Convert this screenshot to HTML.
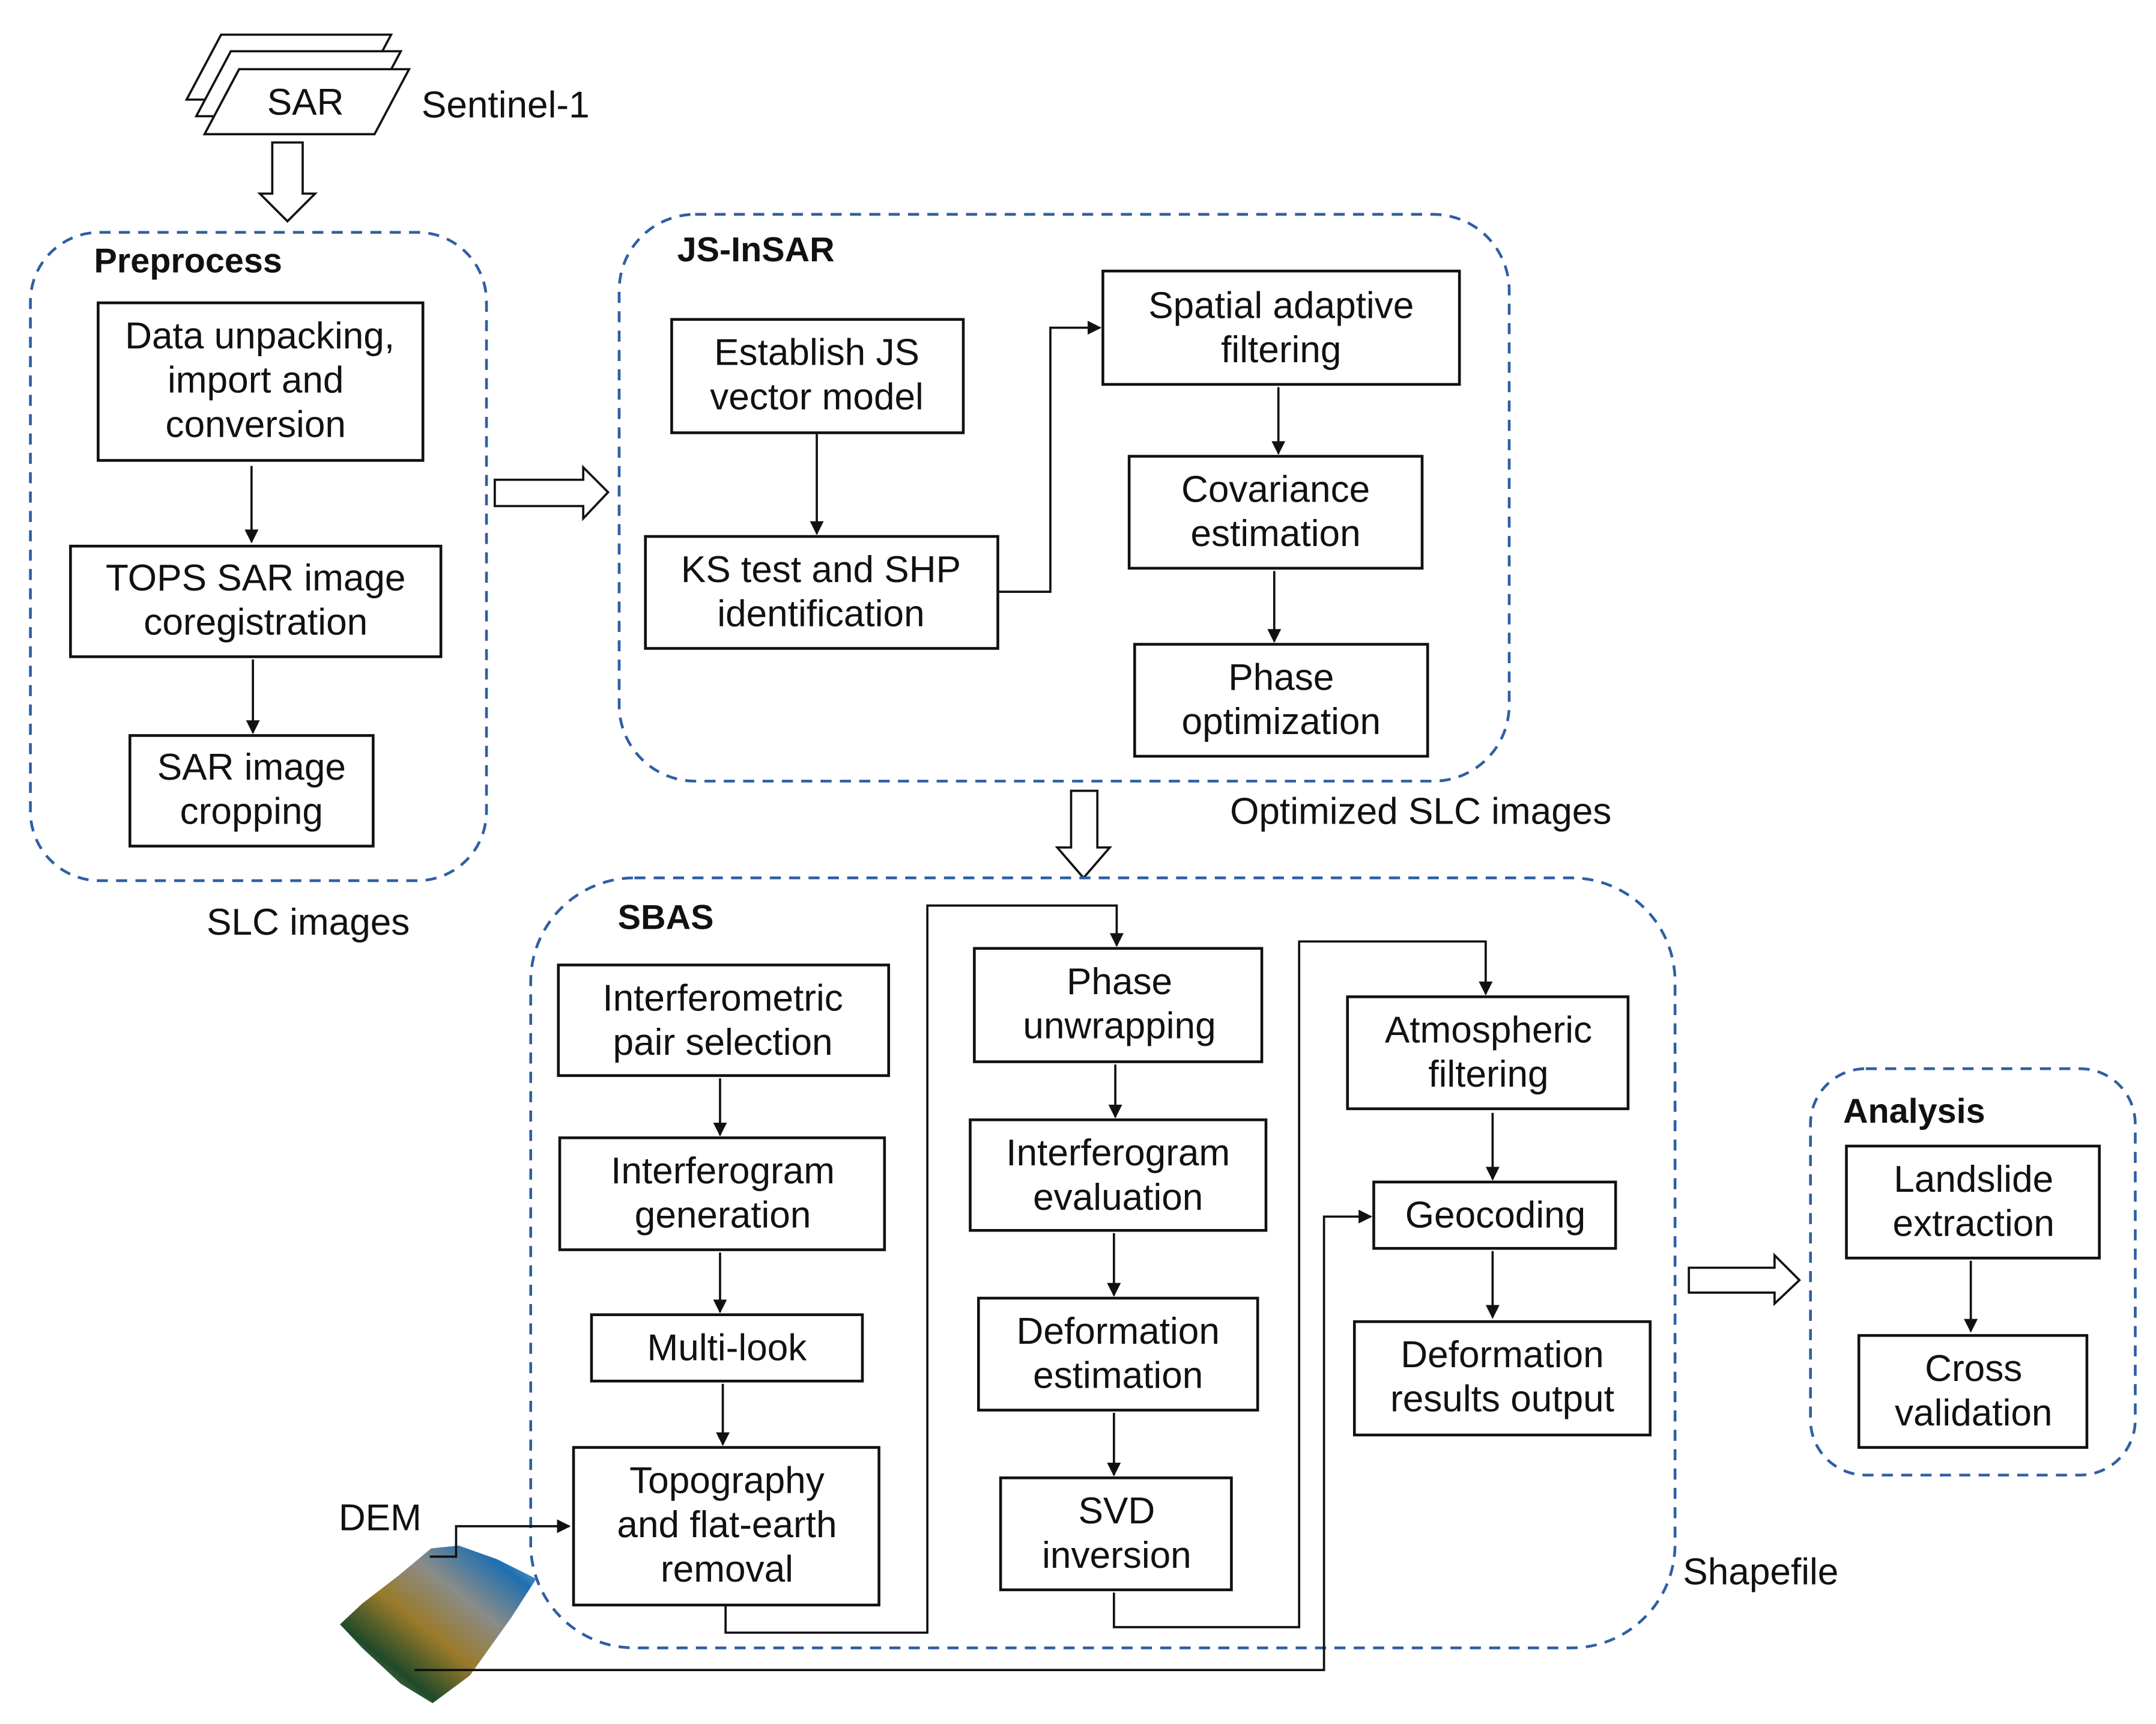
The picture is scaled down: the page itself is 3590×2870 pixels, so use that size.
<!DOCTYPE html>
<html><head><meta charset="utf-8"><style>
html,body{margin:0;padding:0;background:#fff;}
svg{display:block;}
text{font-family:"Liberation Sans",sans-serif;font-size:27px;fill:#111;}
.t{font-weight:bold;font-size:25px;}
.b{fill:#fff;stroke:#111;stroke-width:2;}
.d{fill:none;stroke:#2e5fa3;stroke-width:2;stroke-dasharray:8,6;}
.l{fill:none;stroke:#111;stroke-width:1.6;}
.h{fill:#fff;stroke:#111;stroke-width:1.6;}
</style></head><body>
<svg width="3590" height="2870" viewBox="0 0 1560 1247" xmlns="http://www.w3.org/2000/svg">
<defs>
<marker id="a" markerWidth="10" markerHeight="10" refX="9" refY="5" orient="auto" markerUnits="userSpaceOnUse"><path d="M0,0 L10,5 L0,10 z" fill="#111"/></marker>
<linearGradient id="g" x1="0" y1="1" x2="1" y2="0">
<stop offset="0" stop-color="#b6c98a"/><stop offset="0.25" stop-color="#1f4a2a"/><stop offset="0.45" stop-color="#9a7a2a"/><stop offset="0.65" stop-color="#8a8c88"/><stop offset="0.85" stop-color="#1f6fb0"/><stop offset="1" stop-color="#8fd3d8"/></linearGradient>
</defs>
<!-- SAR stack -->
<polygon class="h" points="160,25 283,25 258,72 135,72"/>
<polygon class="h" points="167,37 290,37 265,84 142,84"/>
<polygon class="h" points="173,50 296,50 271,97 148,97"/>
<text x="221" y="83" text-anchor="middle">SAR</text>
<text x="305" y="85">Sentinel-1</text>
<polygon class="h" points="197,103 219,103 219,140 228,140 208,160 188,140 197,140"/>
<!-- Preprocess -->
<rect class="d" x="22" y="168" width="330" height="469" rx="50"/>
<text class="t" x="68" y="197">Preprocess</text>
<rect class="b" x="71" y="219" width="235" height="114"/>
<text x="188" y="252" text-anchor="middle">Data unpacking,</text>
<text x="185" y="284" text-anchor="middle">import and</text>
<text x="185" y="316" text-anchor="middle">conversion</text>
<line class="l" x1="182" y1="337" x2="182" y2="392" marker-end="url(#a)"/>
<rect class="b" x="51" y="395" width="268" height="80"/>
<text x="185" y="427" text-anchor="middle">TOPS SAR image</text>
<text x="185" y="459" text-anchor="middle">coregistration</text>
<line class="l" x1="183" y1="477" x2="183" y2="530" marker-end="url(#a)"/>
<rect class="b" x="94" y="532" width="176" height="80"/>
<text x="182" y="564" text-anchor="middle">SAR image</text>
<text x="182" y="596" text-anchor="middle">cropping</text>
<text x="223" y="676" text-anchor="middle">SLC images</text>
<polygon class="h" points="358,347 422,347 422,338 440,356 422,375 422,366 358,366"/>
<!-- JS-InSAR -->
<rect class="d" x="448" y="155" width="644" height="410" rx="55"/>
<text class="t" x="490" y="189">JS-InSAR</text>
<rect class="b" x="486" y="231" width="211" height="82"/>
<text x="591" y="264" text-anchor="middle">Establish JS</text>
<text x="591" y="296" text-anchor="middle">vector model</text>
<line class="l" x1="591" y1="314" x2="591" y2="386" marker-end="url(#a)"/>
<rect class="b" x="467" y="388" width="255" height="81"/>
<text x="594" y="421" text-anchor="middle">KS test and SHP</text>
<text x="594" y="453" text-anchor="middle">identification</text>
<polyline class="l" points="722,428 760,428 760,237 796,237" marker-end="url(#a)"/>
<rect class="b" x="798" y="196" width="258" height="82"/>
<text x="927" y="230" text-anchor="middle">Spatial adaptive</text>
<text x="927" y="262" text-anchor="middle">filtering</text>
<line class="l" x1="925" y1="280" x2="925" y2="328" marker-end="url(#a)"/>
<rect class="b" x="817" y="330" width="212" height="81"/>
<text x="923" y="363" text-anchor="middle">Covariance</text>
<text x="923" y="395" text-anchor="middle">estimation</text>
<line class="l" x1="922" y1="413" x2="922" y2="464" marker-end="url(#a)"/>
<rect class="b" x="821" y="466" width="212" height="81"/>
<text x="927" y="499" text-anchor="middle">Phase</text>
<text x="927" y="531" text-anchor="middle">optimization</text>
<text x="1028" y="596" text-anchor="middle">Optimized SLC images</text>
<polygon class="h" points="775,572 794,572 794,613 803,613 784,635 765,613 775,613"/>
<!-- SBAS -->
<rect class="d" x="384" y="635" width="828" height="557" rx="75"/>
<text class="t" x="447" y="672">SBAS</text>
<rect class="b" x="404" y="698" width="239" height="80"/>
<text x="523" y="731" text-anchor="middle">Interferometric</text>
<text x="523" y="763" text-anchor="middle">pair selection</text>
<line class="l" x1="521" y1="780" x2="521" y2="821" marker-end="url(#a)"/>
<rect class="b" x="405" y="823" width="235" height="81"/>
<text x="523" y="856" text-anchor="middle">Interferogram</text>
<text x="523" y="888" text-anchor="middle">generation</text>
<line class="l" x1="521" y1="906" x2="521" y2="949" marker-end="url(#a)"/>
<rect class="b" x="428" y="951" width="196" height="48"/>
<text x="526" y="984" text-anchor="middle">Multi-look</text>
<line class="l" x1="523" y1="1001" x2="523" y2="1045" marker-end="url(#a)"/>
<rect class="b" x="415" y="1047" width="221" height="114"/>
<text x="526" y="1080" text-anchor="middle">Topography</text>
<text x="526" y="1112" text-anchor="middle">and flat-earth</text>
<text x="526" y="1144" text-anchor="middle">removal</text>
<polyline class="l" points="525,1161 525,1181 671,1181 671,655 808,655 808,684" marker-end="url(#a)"/>
<rect class="b" x="705" y="686" width="208" height="82"/>
<text x="810" y="719" text-anchor="middle">Phase</text>
<text x="810" y="751" text-anchor="middle">unwrapping</text>
<line class="l" x1="807" y1="770" x2="807" y2="808" marker-end="url(#a)"/>
<rect class="b" x="702" y="810" width="214" height="80"/>
<text x="809" y="843" text-anchor="middle">Interferogram</text>
<text x="809" y="875" text-anchor="middle">evaluation</text>
<line class="l" x1="806" y1="892" x2="806" y2="937" marker-end="url(#a)"/>
<rect class="b" x="708" y="939" width="202" height="81"/>
<text x="809" y="972" text-anchor="middle">Deformation</text>
<text x="809" y="1004" text-anchor="middle">estimation</text>
<line class="l" x1="806" y1="1022" x2="806" y2="1067" marker-end="url(#a)"/>
<rect class="b" x="724" y="1069" width="167" height="81"/>
<text x="808" y="1102" text-anchor="middle">SVD</text>
<text x="808" y="1134" text-anchor="middle">inversion</text>
<polyline class="l" points="806,1152 806,1177 940,1177 940,681 1075,681 1075,719" marker-end="url(#a)"/>
<rect class="b" x="975" y="721" width="203" height="81"/>
<text x="1077" y="754" text-anchor="middle">Atmospheric</text>
<text x="1077" y="786" text-anchor="middle">filtering</text>
<line class="l" x1="1080" y1="805" x2="1080" y2="853" marker-end="url(#a)"/>
<rect class="b" x="994" y="855" width="175" height="48"/>
<text x="1082" y="888" text-anchor="middle">Geocoding</text>
<line class="l" x1="1080" y1="905" x2="1080" y2="953" marker-end="url(#a)"/>
<rect class="b" x="980" y="956" width="214" height="82"/>
<text x="1087" y="989" text-anchor="middle">Deformation</text>
<text x="1087" y="1021" text-anchor="middle">results output</text>
<text x="1274" y="1146" text-anchor="middle">Shapefile</text>
<!-- DEM -->
<text x="275" y="1107" text-anchor="middle">DEM</text>
<polygon fill="url(#g)" points="312,1120 332,1118 360,1128 388,1142 370,1170 340,1212 313,1232 290,1218 262,1192 246,1175 262,1160 288,1140"/>
<polyline class="l" points="311,1126 330,1126 330,1104 412,1104" marker-end="url(#a)"/>
<polyline class="l" points="300,1208 958,1208 958,880 992,880" marker-end="url(#a)"/>
<polygon class="h" points="1222,917 1284,917 1284,908 1302,926 1284,943 1284,935 1222,935"/>
<!-- Analysis -->
<rect class="d" x="1310" y="773" width="235" height="294" rx="40"/>
<text class="t" x="1385" y="812" text-anchor="middle">Analysis</text>
<rect class="b" x="1336" y="829" width="183" height="81"/>
<text x="1428" y="862" text-anchor="middle">Landslide</text>
<text x="1428" y="894" text-anchor="middle">extraction</text>
<line class="l" x1="1426" y1="912" x2="1426" y2="963" marker-end="url(#a)"/>
<rect class="b" x="1345" y="966" width="165" height="81"/>
<text x="1428" y="999" text-anchor="middle">Cross</text>
<text x="1428" y="1031" text-anchor="middle">validation</text>
</svg>
</body></html>
